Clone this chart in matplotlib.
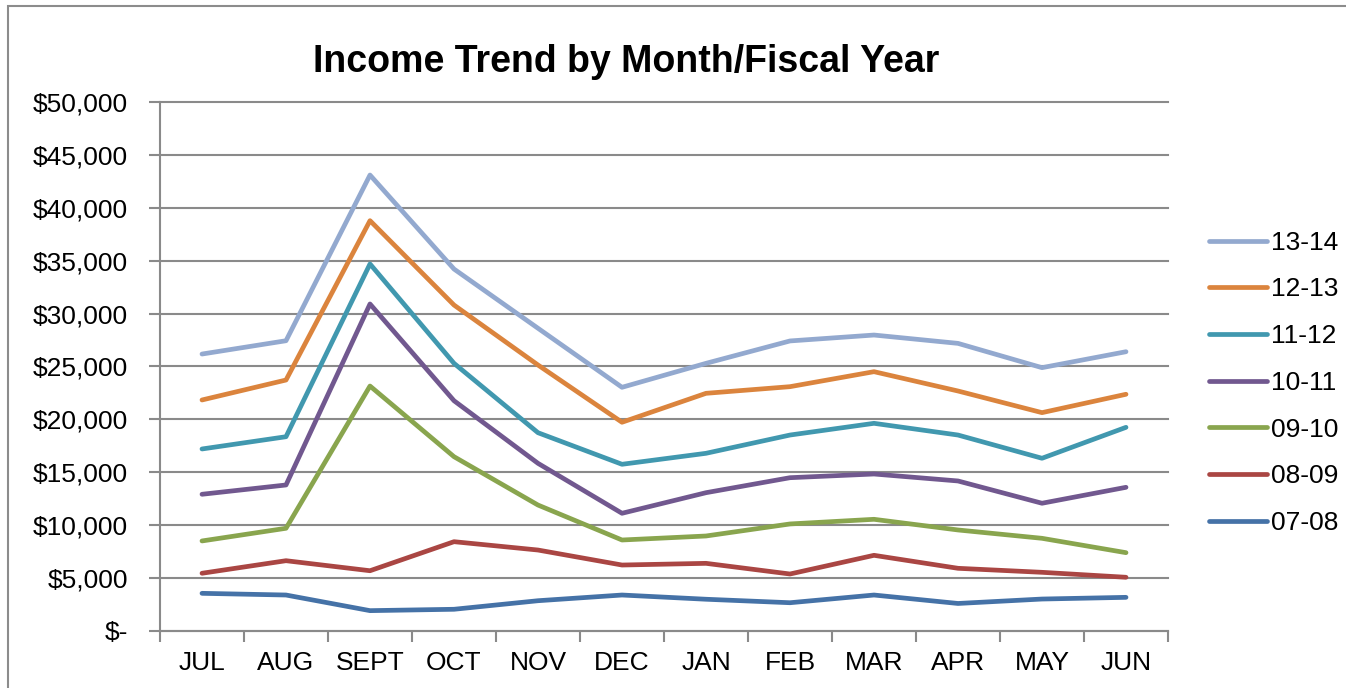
"""
Income trend by month for each fiscal year, one line per year.
"""

import matplotlib.pyplot as plt
import numpy as np
from matplotlib.patches import Rectangle
from matplotlib.ticker import FuncFormatter

plt.rcParams['font.family'] = ['Liberation Sans', 'DejaVu Sans']

months = ['JUL', 'AUG', 'SEPT', 'OCT', 'NOV', 'DEC', 'JAN', 'FEB', 'MAR', 'APR', 'MAY', 'JUN']

fy_07_08 = [3520, 3360, 1880, 2010, 2820, 3360, 2960, 2630, 3360, 2560, 2980, 3140]
fy_08_09 = [5420, 6610, 5660, 8410, 7620, 6200, 6360, 5350, 7120, 5890, 5510, 5040]
fy_09_10 = [8480, 9680, 23150, 16460, 11880, 8570, 8950, 10090, 10530, 9520, 8730, 7370]
fy_10_11 = [12900, 13780, 30920, 21760, 15830, 11100, 13050, 14470, 14820, 14160, 12050, 13560]
fy_11_12 = [17190, 18350, 34710, 25300, 18730, 15740, 16780, 18510, 19620, 18510, 16310, 19240]
fy_12_13 = [21830, 23720, 38810, 30820, 25140, 19720, 22460, 23090, 24510, 22680, 20630, 22370]
fy_13_14 = [26180, 27440, 43130, 34230, 28620, 23030, 25300, 27420, 27980, 27190, 24890, 26400]

series = [
    ('13-14', fy_13_14, '#93A9CF'),
    ('12-13', fy_12_13, '#DB843D'),
    ('11-12', fy_11_12, '#4198AF'),
    ('10-11', fy_10_11, '#71588F'),
    ('09-10', fy_09_10, '#89A54E'),
    ('08-09', fy_08_09, '#AA4643'),
    ('07-08', fy_07_08, '#4572A7'),
]

GRID = '#8A8A8A'
FS = 19

fig = plt.figure(figsize=(13.46, 6.88), dpi=100)
fig.patch.set_facecolor('white')
# outer chart frame, open to the right and bottom
fig.patches.append(Rectangle((8 / 1346, -0.1), 1.2, 1.1 - 6 / 688, transform=fig.transFigure,
                             fill=False, edgecolor='#8C8C8C', linewidth=1.5))

ax = fig.add_axes([160 / 1346, 1 - 630.5 / 688, 1008 / 1346, 528 / 688])

x = np.arange(len(months))
for name, values, color in series:
    ax.plot(x, values, color=color, linewidth=3.4, label=name,
            solid_capstyle='round', solid_joinstyle='round', zorder=3)

ax.set_xlim(-0.5, len(months) - 0.5)
ax.set_ylim(0, 50000)
ax.set_yticks(np.arange(0, 50001, 5000))
ax.yaxis.set_major_formatter(FuncFormatter(lambda v, _: '$-' if v == 0 else f'${v:,.0f}'))
ax.grid(axis='y', color=GRID, linewidth=1.5, zorder=1)
for gl in ax.get_ygridlines():
    gl.set_clip_on(False)

# category labels sit between the boundary tick marks
ax.set_xticks(np.arange(-0.5, len(months)), labels=[''] * (len(months) + 1))
ax.set_xticks(x, labels=months, minor=True)
ax.tick_params(axis='x', which='minor', length=0, pad=15, labelsize=FS)
ax.tick_params(axis='x', which='major', length=8, width=1.5, color=GRID, direction='out')
ax.tick_params(axis='y', length=8, width=1.5, color=GRID, direction='out', labelsize=FS, pad=15)

for side in ('top', 'right'):
    ax.spines[side].set_visible(False)
for side in ('left', 'bottom'):
    ax.spines[side].set_color(GRID)
    ax.spines[side].set_linewidth(1.5)

fig.text(626 / 1346, 1 - 62 / 688, 'Income Trend by Month/Fiscal Year',
         ha='center', va='center', fontsize=27, fontweight='bold')

ax.legend(loc='center left', bbox_to_anchor=(1.03, 0.469), frameon=False,
          fontsize=FS, handlelength=2.2, handletextpad=0.15, labelspacing=0.86,
          borderaxespad=0)

plt.savefig('out.png', dpi=100)
plt.close(fig)
